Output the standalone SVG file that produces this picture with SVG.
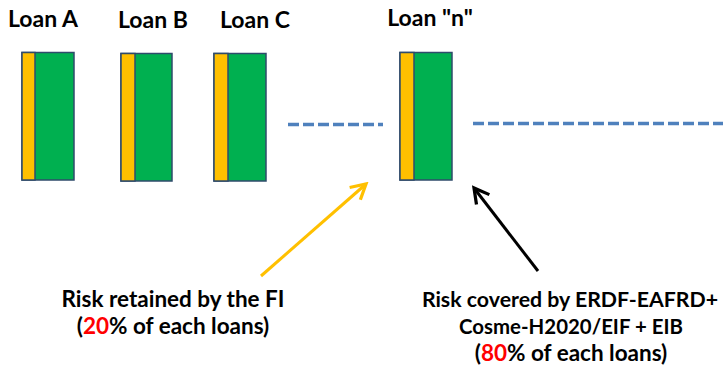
<svg xmlns="http://www.w3.org/2000/svg" width="723" height="367" viewBox="0 0 723 367">
<defs>
<style>
.lbl{font-family:Lato,"Open Sans","Liberation Sans",sans-serif;font-weight:bold;font-size:22.5px;fill:#000;text-anchor:middle}
.hd{font-size:23px}
.red{fill:#FF0000}
.y{fill:#FFC000;stroke:#2F4B6B;stroke-width:1.5}
.g{fill:#00B050;stroke:#2F4B6B;stroke-width:1.5}
.dash{stroke:#4F81BD;stroke-width:3.5;stroke-dasharray:11 4;fill:none}
</style>
<marker id="ay" viewBox="0 0 12 12" refX="10" refY="6" markerWidth="6.5" markerHeight="6.5" orient="auto" markerUnits="strokeWidth">
<path d="M1,1 L10,6 L1,11" fill="none" stroke="#FFC000" stroke-width="2"/>
</marker>
<marker id="ab" viewBox="0 0 12 12" refX="10" refY="6" markerWidth="6.5" markerHeight="6.5" orient="auto" markerUnits="strokeWidth">
<path d="M1,1 L10,6 L1,11" fill="none" stroke="#000" stroke-width="2"/>
</marker>
</defs>
<rect width="723" height="367" fill="#fff"/>
<g id="loanA">
<text class="lbl hd" x="43" y="27">Loan A</text>
<rect class="g" x="22" y="52.5" width="52" height="127.5"/>
<rect class="y" x="22" y="52.5" width="13" height="127.5"/>
</g>
<g id="loanB">
<text class="lbl hd" x="153" y="28">Loan B</text>
<rect class="g" x="121" y="53.5" width="51" height="127.5"/>
<rect class="y" x="121" y="53.5" width="14" height="127.5"/>
</g>
<g id="loanC">
<text class="lbl hd" x="255" y="28">Loan C</text>
<rect class="g" x="214" y="53.5" width="52" height="127.5"/>
<rect class="y" x="214" y="53.5" width="14" height="127.5"/>
</g>
<g id="loanN">
<text class="lbl hd" x="430" y="26">Loan "n"</text>
<rect class="g" x="400" y="52.5" width="52" height="127.5"/>
<rect class="y" x="400" y="52.5" width="14" height="127.5"/>
</g>
<g id="connectors">
<line class="dash" x1="288" y1="124.5" x2="383" y2="124.5"/>
<line class="dash" x1="473" y1="123.5" x2="723" y2="123.5"/>
<line x1="261" y1="276" x2="366" y2="184" stroke="#FFC000" stroke-width="3" marker-end="url(#ay)"/>
<line x1="538" y1="271" x2="474" y2="188" stroke="#000" stroke-width="3" marker-end="url(#ab)"/>
</g>
<g id="riskFI">
<text class="lbl" x="173" y="307">Risk retained by the FI</text>
<text class="lbl" x="173" y="334">(<tspan class="red">20</tspan>% of each loans)</text>
</g>
<g id="riskCovered">
<text class="lbl" x="570" y="307" style="font-size:21.3px">Risk covered by ERDF-EAFRD+</text>
<text class="lbl" x="571" y="334" style="font-size:20.4px">Cosme-H2020/EIF + EIB</text>
<text class="lbl" x="571" y="361">(<tspan class="red">80</tspan>% of each loans)</text>
</g>
</svg>
